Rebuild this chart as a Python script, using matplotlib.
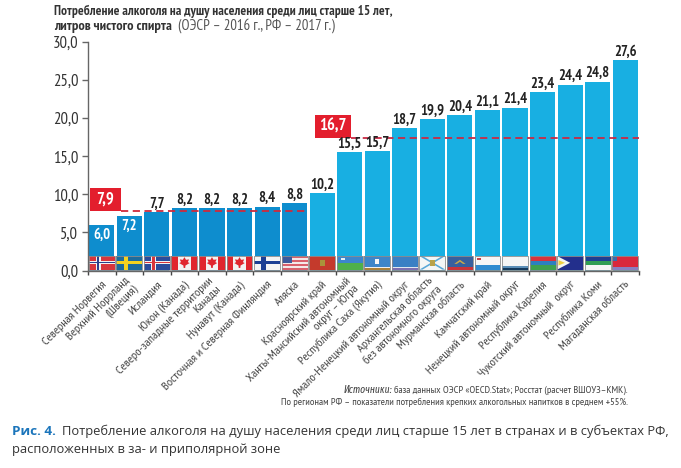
import matplotlib
matplotlib.use("Agg")
import matplotlib.pyplot as plt
from matplotlib.patches import Rectangle, Polygon
from matplotlib.transforms import ScaledTranslation

W, H = 681, 468
NARROW = ["PT Sans Narrow", "Roboto Condensed", "Liberation Sans"]
NARROW_ITALIC = ["Fira Sans Extra Condensed", "Roboto Condensed", "Liberation Sans"]

regions = [
    "Северная Норвегия", "Верхний Норрланд\n(Швеция)", "Исландия", "Юкон (Канада)",
    "Северо-западные территории\nКанады", "Нунавут (Канада)", "Восточная и Северная Финляндия",
    "Аляска", "Красноярский край", "Ханты-Мансийский автономный\nокруг – Югра",
    "Республика Саха (Якутия)", "Ямало-Ненецкий автономный округ",
    "Архангельская область\nбез автономного округа", "Мурманская область", "Камчатский край",
    "Ненецкий автономный округ", "Республика Карелия", "Чукотский автономный  округ",
    "Республика Коми", "Магаданская область",
]
values = [6.0, 7.2, 7.7, 8.2, 8.2, 8.2, 8.4, 8.8, 10.2, 15.5, 15.7, 18.7, 19.9, 20.4,
          21.1, 21.4, 23.4, 24.4, 24.8, 27.6]
value_labels = ["6,0", "7,2", "7,7", "8,2", "8,2", "8,2", "8,4", "8,8", "10,2", "15,5", "15,7",
                "18,7", "19,9", "20,4", "21,1", "21,4", "23,4", "24,4", "24,8", "27,6"]
foreign_count = 8
y_ticks = [0, 5, 10, 15, 20, 25, 30]
y_labels = ["0,0", "5,0", "10,0", "15,0", "20,0", "25,0", "30,0"]
mean_labels = ["7,9", "16,7"]
mean_levels = [7.85, 17.4]

BLUE = "#0e8dce"
CYAN = "#18afe2"
RED = "#e31e2d"
FLAG_H = 1.9


def px_x(x):
    return x / W


def px_y(y):
    return 1 - y / H


fig = plt.figure(figsize=(W / 100, H / 100), dpi=100)
ax = fig.add_axes([px_x(88), px_y(270.5), 551 / W, 228.5 / H])

centers = [i + 0.5 for i in range(len(values))]
colors = [BLUE if i < foreign_count else CYAN for i in range(len(values))]
ax.bar(centers, values, width=0.91, color=colors, zorder=2)

ax.set_xlim(0, len(values))
ax.set_ylim(0, 30)
for side in ["top", "right"]:
    ax.spines[side].set_visible(False)
for side in ["left", "bottom"]:
    ax.spines[side].set_color("#666666")
    ax.spines[side].set_linewidth(1.0)

ax.set_yticks(y_ticks, y_labels, family=NARROW, fontsize=12, color="#333333")
ax.tick_params(axis="y", length=4, width=1, color="#666666", pad=3)
ax.set_xticks(range(len(values) + 1), minor=True)
ax.tick_params(axis="x", which="minor", length=3, width=1, color="#444444")
ax.set_xticks(centers, regions, rotation=45, ha="right", va="center", rotation_mode="anchor",
              multialignment="right", family=NARROW, fontsize=8.9, color="#444444", linespacing=1.1)
ax.tick_params(axis="x", which="major", length=0, pad=9)
# labels end a little right of the bar centre
shift = ScaledTranslation(3 / 100, 0, fig.dpi_scale_trans)
for lab in ax.get_xticklabels():
    lab.set_transform(lab.get_transform() + shift)

# value labels: the two short bars carry theirs inside
for i, (v, lab) in enumerate(zip(values, value_labels)):
    if v < 7.5:
        ax.annotate(lab, (centers[i], v), xytext=(0, -7), textcoords="offset points", ha="center",
                    va="center", color="white", family=NARROW, weight="bold", fontsize=10.5, zorder=6)
    else:
        ax.annotate(lab, (centers[i], v), xytext=(0, 1), textcoords="offset points", ha="center",
                    va="bottom", color="#222222", family=NARROW, weight="bold", fontsize=10.5, zorder=6)

# mean lines and red boxes
ax.plot([1.2, 8], [mean_levels[0]] * 2, color="#cf2a3c", lw=1.3, dashes=(4, 2.5), zorder=5)
ax.plot([9.54, 20], [mean_levels[1]] * 2, color="#c92b45", lw=1.3, dashes=(4, 2.5), zorder=5)
for x0, x1, level, lab in [(0.07, 1.2, mean_levels[0], mean_labels[0]),
                           (8.23, 9.54, mean_levels[1], mean_labels[1])]:
    ax.add_patch(Rectangle((x0, level), x1 - x0, 3.0, color=RED, lw=0, zorder=5))
    ax.text((x0 + x1) / 2, level + 1.5, lab, color="white", family=NARROW, weight="bold",
            fontsize=12, ha="center", va="center", zorder=6)


def flag_box(i, fx0, fy0, fx1, fy1, color):
    x = i + 0.03 + 0.94 * fx0
    y = 0.12 + (FLAG_H - 0.12) * fy0
    w = 0.94 * (fx1 - fx0)
    h = (FLAG_H - 0.12) * (fy1 - fy0)
    ax.add_patch(Rectangle((x, y), w, h, color=color, lw=0, zorder=3))


def flag_poly(i, pts, color):
    xy = [(i + 0.03 + 0.94 * a, 0.12 + (FLAG_H - 0.12) * b) for a, b in pts]
    ax.add_patch(Polygon(xy, closed=True, color=color, lw=0, zorder=4))


def nordic(i, bg, outer, inner=None):
    flag_box(i, 0, 0, 1, 1, bg)
    flag_box(i, 0.28, 0, 0.46, 1, outer)
    flag_box(i, 0, 0.38, 1, 0.62, outer)
    if inner:
        flag_box(i, 0.33, 0, 0.41, 1, inner)
        flag_box(i, 0, 0.45, 1, 0.55, inner)


def canada(i):
    flag_box(i, 0, 0, 1, 1, "#f2f2f2")
    flag_box(i, 0, 0, 0.25, 1, "#e0262e")
    flag_box(i, 0.75, 0, 1, 1, "#e0262e")
    flag_poly(i, [(0.5, 0.92), (0.56, 0.72), (0.68, 0.75), (0.63, 0.55), (0.7, 0.48), (0.54, 0.3),
                  (0.53, 0.12), (0.47, 0.12), (0.46, 0.3), (0.3, 0.48), (0.37, 0.55), (0.32, 0.75),
                  (0.44, 0.72)], "#e0262e")


def draw_flags():
    nordic(0, "#d8353c", "#f2f2f2", "#2b3f8c")
    nordic(1, "#1c6c9e", "#f4d21f")
    nordic(2, "#2b4c9b", "#f2f2f2", "#d8353c")
    canada(3)
    canada(4)
    canada(5)
    nordic(6, "#f4f4f4", "#1c3f94")
    # USA
    for s in range(7):
        flag_box(7, 0, s / 7, 1, (s + 1) / 7, "#d9606c" if s % 2 == 0 else "#f4e8e8")
    flag_box(7, 0, 0.5, 0.4, 1, "#3c5a9c")
    # Krasnoyarsk
    flag_box(8, 0, 0, 1, 1, "#c43a2c")
    flag_poly(8, [(0.4, 0.3), (0.6, 0.3), (0.6, 0.7), (0.4, 0.7)], "#a9933a")
    # KhMAO
    flag_box(9, 0, 0.5, 1, 1, "#3c86cc")
    flag_box(9, 0, 0, 1, 0.5, "#4fb04a")
    flag_box(9, 0.15, 0.7, 0.3, 0.85, "#e8f2f8")
    # Sakha
    flag_box(10, 0, 0, 1, 1, "#3d85c8")
    flag_box(10, 0, 0.12, 1, 0.2, "#f0f0f0")
    flag_box(10, 0, 0, 1, 0.12, "#a9803a")
    flag_poly(10, [(0.42, 0.4), (0.58, 0.4), (0.58, 0.78), (0.42, 0.78)], "#f6f6f6")
    # YaNAO
    flag_box(11, 0, 0, 1, 1, "#3a80c4")
    flag_box(11, 0, 0, 1, 0.12, "#7c6fb0")
    flag_box(11, 0, 0.12, 1, 0.2, "#dfe8f0")
    # Arkhangelsk
    flag_box(12, 0, 0, 1, 1, "#f4f6f6")
    flag_poly(12, [(0, 1), (0.12, 1), (1, 0), (0.88, 0)], "#58a7d8")
    flag_poly(12, [(0, 0), (0.12, 0), (1, 1), (0.88, 1)], "#58a7d8")
    flag_poly(12, [(0.4, 0.3), (0.6, 0.3), (0.6, 0.7), (0.4, 0.7)], "#b9a24a")
    # Murmansk
    flag_box(13, 0, 0.18, 1, 1, "#37609e")
    flag_box(13, 0, 0, 1, 0.18, "#c9343a")
    flag_poly(13, [(0.28, 0.42), (0.5, 0.72), (0.72, 0.42), (0.62, 0.42), (0.5, 0.58), (0.38, 0.42)], "#c8a84a")
    # Kamchatka
    flag_box(14, 0, 0.33, 1, 1, "#f6f6f6")
    flag_box(14, 0, 0, 1, 0.33, "#2f8bd0")
    flag_box(14, 0.1, 0.68, 0.24, 0.84, "#c8424a")
    # Nenets
    flag_box(15, 0, 0.3, 1, 1, "#f6f6f6")
    flag_box(15, 0, 0.12, 1, 0.3, "#5c8fb8")
    flag_box(15, 0, 0, 1, 0.12, "#153a5c")
    # Karelia
    flag_box(16, 0, 0.66, 1, 1, "#d8333c")
    flag_box(16, 0, 0.33, 1, 0.66, "#2d80c0")
    flag_box(16, 0, 0, 1, 0.33, "#3fa050")
    # Chukotka
    flag_box(17, 0, 0, 1, 1, "#232f8c")
    flag_poly(17, [(0, 1), (0.5, 0.5), (0, 0)], "#f6f6f0")
    flag_poly(17, [(0.05, 0.7), (0.3, 0.5), (0.05, 0.3)], "#f0d040")
    # Komi
    flag_box(18, 0, 0.66, 1, 1, "#1e3f92")
    flag_box(18, 0, 0.33, 1, 0.66, "#2f9e52")
    flag_box(18, 0, 0, 1, 0.33, "#f4f6f4")
    # Magadan
    flag_box(19, 0, 0.2, 1, 1, "#d9283c")
    flag_box(19, 0, 0, 1, 0.2, "#8a7fc0")
    flag_box(19, 0, 0.6, 0.2, 1, "#3d6aa8")


draw_flags()
for i in range(len(values)):
    ax.add_patch(Rectangle((i + 0.03, 0.12), 0.94, FLAG_H - 0.12, fill=False, ec="#8d8d8d", lw=0.6, zorder=5))

# title
fig.text(px_x(54), px_y(14.5), "Потребление алкоголя на душу населения среди лиц старше 15 лет,",
         family=NARROW, weight="bold", fontsize=9.6, color="#333333")
fig.text(px_x(54), px_y(30), "литров чистого спирта", family=NARROW, weight="bold", fontsize=10.4, color="#333333")
fig.text(px_x(178), px_y(30), "(ОЭСР – 2016 г., РФ – 2017 г.)", family=NARROW, fontsize=10.6, color="#555555")

# sources, right aligned, italic lead-in placed against the rest of the line
src = fig.text(px_x(628), px_y(393), "база данных ОЭСР «OECD.Stat»; Росстат (расчет ВШОУЗ–КМК).",
               family=NARROW, fontsize=7.55, color="#444444", ha="right")
bb = src.get_window_extent(fig.canvas.get_renderer())
fig.text((bb.x0 - 2) / W, px_y(393), "Источники:", family=NARROW_ITALIC, style="italic", fontsize=7.55,
         color="#444444", ha="right")
fig.text(px_x(628), px_y(405), "По регионам РФ – показатели потребления крепких алкогольных напитков в среднем +55%.",
         family=NARROW, fontsize=7.55, color="#444444", ha="right")

# caption
fig.text(px_x(12), px_y(435), "Рис. 4.", family="Open Sans", weight="bold", fontsize=9.7, color="#1b75bb")
fig.text(px_x(62), px_y(435), "Потребление алкоголя на душу населения среди лиц старше 15 лет в странах и в субъектах РФ,",
         family="Open Sans", fontsize=9.25, color="#333333")
fig.text(px_x(12), px_y(453), "расположенных в за- и приполярной зоне", family="Open Sans", fontsize=9.25, color="#333333")

fig.savefig("out.png", dpi=100)
